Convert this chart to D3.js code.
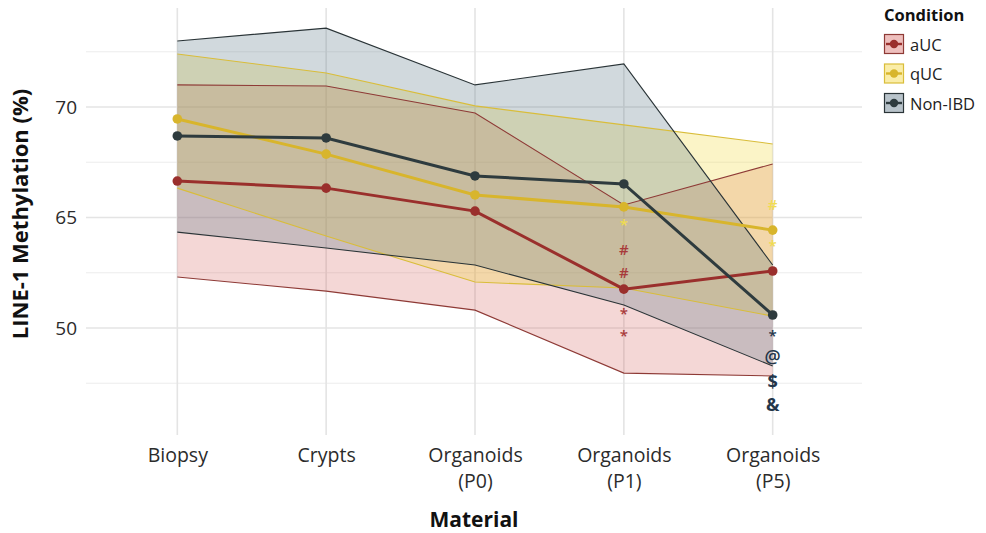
<!DOCTYPE html>
<html>
<head>
<meta charset="utf-8">
<script src="https://cdn.jsdelivr.net/npm/d3@7"></script>
<style>
  html, body { margin: 0; padding: 0; background: #fff; }
  svg { display: block; font-family: "Open Sans", "Noto Sans", sans-serif; }
</style>
</head>
<body>
<svg id="chart" width="986" height="533"></svg>
<script>
// Sample material, in order along the x axis
const materials = ["Biopsy", "Crypts", "Organoids (P0)", "Organoids (P1)", "Organoids (P5)"];
const materialLabels = [["Biopsy"], ["Crypts"], ["Organoids", "(P0)"], ["Organoids", "(P1)"], ["Organoids", "(P5)"]];

const conditions = ["aUC", "qUC", "Non-IBD"];

// Mean LINE-1 methylation per material
const meanAUC    = [56.65, 56.33, 55.29, 51.76, 52.58];
const meanQUC    = [59.46, 57.87, 56.02, 55.48, 54.43];
const meanNonIBD = [58.69, 58.60, 56.88, 56.52, 50.59];

// Upper / lower ribbon bounds per material
const upperAUC    = [61.00, 60.95, 59.73, 55.57, 57.42];
const lowerAUC    = [52.31, 51.67, 50.81, 47.96, 47.83];
const upperQUC    = [62.40, 61.54, 60.05, 59.19, 58.33];
const lowerQUC    = [56.33, 54.16, 52.08, 51.81, 50.54];
const upperNonIBD = [62.99, 63.57, 61.00, 61.95, 52.85];
const lowerNonIBD = [54.34, 53.62, 52.85, 51.04, 48.28];

// Y axis ticks and their printed labels
const yTicks = [50, 55, 60];
const yTickLabels = ["50", "65", "70"];
const yMinorTicks = [47.5, 52.5, 57.5, 62.5];

// Significance symbols placed beside the points
const annotations = [
  { material: "Organoids (P1)", condition: "qUC", symbol: "*", at: 54.80 },
  { material: "Organoids (P1)", condition: "aUC", symbol: "#", at: 53.57 },
  { material: "Organoids (P1)", condition: "aUC", symbol: "#", at: 52.53 },
  { material: "Organoids (P1)", condition: "aUC", symbol: "*", at: 50.77 },
  { material: "Organoids (P1)", condition: "aUC", symbol: "*", at: 49.77 },
  { material: "Organoids (P5)", condition: "qUC", symbol: "#", at: 55.57 },
  { material: "Organoids (P5)", condition: "qUC", symbol: "*", at: 53.85 },
  { material: "Organoids (P5)", condition: "Non-IBD", symbol: "*", at: 49.77 },
  { material: "Organoids (P5)", condition: "Non-IBD", symbol: "@", at: 48.64 },
  { material: "Organoids (P5)", condition: "Non-IBD", symbol: "$", at: 47.60 },
  { material: "Organoids (P5)", condition: "Non-IBD", symbol: "&", at: 46.52 }
];

const series = [
  { name: "aUC", mean: meanAUC, upper: upperAUC, lower: lowerAUC },
  { name: "qUC", mean: meanQUC, upper: upperQUC, lower: lowerQUC },
  { name: "Non-IBD", mean: meanNonIBD, upper: upperNonIBD, lower: lowerNonIBD }
];

const style = {
  "aUC":     { line: "#9a2f2c", edge: "#8e3a36", fill: "#d4605a", fillOpacity: 0.25, mark: "#a83a3a" },
  "qUC":     { line: "#d8b52c", edge: "#d9bd3a", fill: "#f2d530", fillOpacity: 0.27, mark: "#f0dc50" },
  "Non-IBD": { line: "#2e3b3e", edge: "#2a3437", fill: "#5a7585", fillOpacity: 0.28, mark: "#24364a" }
};

const svg = d3.select("#chart");
const panel = { left: 86, right: 862, top: 8, bottom: 435 };

const x = d3.scalePoint().domain(materials).range([panel.left + 2, panel.right]).padding(0.6);
const y = d3.scaleLinear().domain([45.16, 64.48]).range([panel.bottom, panel.top]);

// Grid
const grid = svg.append("g");
grid.selectAll("line.minor").data(yMinorTicks).join("line")
  .attr("x1", panel.left).attr("x2", panel.right)
  .attr("y1", d => y(d)).attr("y2", d => y(d))
  .attr("stroke", "#ececec").attr("stroke-width", 1.1);
grid.selectAll("line.major").data(yTicks).join("line")
  .attr("x1", panel.left).attr("x2", panel.right)
  .attr("y1", d => y(d)).attr("y2", d => y(d))
  .attr("stroke", "#e4e4e4").attr("stroke-width", 1.6);
grid.selectAll("line.v").data(materials).join("line")
  .attr("x1", d => x(d)).attr("x2", d => x(d))
  .attr("y1", panel.top).attr("y2", panel.bottom)
  .attr("stroke", "#e4e4e4").attr("stroke-width", 1.6);

// Ribbons
const area = d3.area()
  .x((d, i) => x(materials[i]))
  .y0(d => y(d[0])).y1(d => y(d[1]));
const edge = d3.line().x((d, i) => x(materials[i])).y(d => y(d));

const ribbons = svg.append("g");
series.forEach(s => {
  const st = style[s.name];
  const pts = s.lower.map((lo, i) => [lo, s.upper[i]]);
  ribbons.append("path").attr("d", area(pts))
    .attr("fill", st.fill).attr("fill-opacity", st.fillOpacity).attr("stroke", "none");
});
series.forEach(s => {
  const st = style[s.name];
  [s.upper, s.lower].forEach(b => {
    ribbons.append("path").attr("d", edge(b))
      .attr("fill", "none").attr("stroke", st.edge).attr("stroke-width", 1.1);
  });
});

// Mean lines and points
const means = svg.append("g");
series.forEach(s => {
  const st = style[s.name];
  means.append("path").attr("d", edge(s.mean))
    .attr("fill", "none").attr("stroke", st.line).attr("stroke-width", 3);
  means.selectAll(null).data(s.mean).join("circle")
    .attr("cx", (d, i) => x(materials[i])).attr("cy", d => y(d))
    .attr("r", 4.8).attr("fill", st.line);
});

// Significance symbols
const glyphShift = { "*": 0.52, "#": 0.36, "@": 0.27, "$": 0.37, "&": 0.36 };
const glyphSize = d => (d.symbol === "*" || d.symbol === "#") ? 15 : 18;
svg.append("g").selectAll("text").data(annotations).join("text")
  .attr("x", d => x(d.material))
  .attr("y", d => y(d.at) + glyphShift[d.symbol] * glyphSize(d))
  .attr("text-anchor", "middle")
  .attr("font-size", glyphSize)
  .attr("font-weight", d => d.symbol === "@" ? 600 : (glyphSize(d) === 15 ? 600 : 700))
  .attr("fill", d => style[d.condition].mark)
  .text(d => d.symbol);

// Y axis labels
const yAxis = d3.axisLeft(y).tickValues(yTicks)
  .tickFormat((d, i) => yTickLabels[i]).tickSize(0).tickPadding(9);
const yg = svg.append("g").attr("transform", `translate(${panel.left},0)`).call(yAxis);
yg.select(".domain").remove();
yg.selectAll("text").attr("font-size", 19).attr("fill", "#2b2b2b")
  .attr("font-family", "'Open Sans', sans-serif");

// X axis labels, one text per line
const xAxis = d3.axisBottom(x).tickSize(0).tickPadding(0);
const xg = svg.append("g").attr("transform", `translate(0,${panel.bottom})`).call(xAxis);
xg.select(".domain").remove();
xg.selectAll(".tick text").remove();
xg.selectAll(".tick").each(function(d) {
  const lines = materialLabels[materials.indexOf(d)];
  lines.forEach((ln, k) => d3.select(this).append("text")
    .attr("x", 0).attr("y", 26.5 + k * 26.5)
    .attr("text-anchor", "middle").attr("fill", "#2b2b2b")
    .attr("font-size", 19.5).attr("font-family", "'Open Sans', sans-serif")
    .text(ln));
});

// Axis titles
svg.append("text").attr("x", 474).attr("y", 527).attr("text-anchor", "middle")
  .attr("font-size", 21).attr("font-weight", 700).attr("fill", "#111").text("Material");
svg.append("text").attr("transform", "translate(28,214) rotate(-90)").attr("text-anchor", "middle")
  .attr("font-size", 22).attr("font-weight", 700).attr("fill", "#111").text("LINE-1 Methylation (%)");

// Legend
const legend = svg.append("g").attr("transform", "translate(884,0)");
legend.append("text").attr("x", 0).attr("y", 21).attr("font-size", 16.5).attr("font-weight", 700)
  .attr("fill", "#111").text("Condition");
conditions.forEach((c, i) => {
  const st = style[c];
  const g = legend.append("g").attr("transform", `translate(0,${34 + i * 29.5})`);
  g.append("rect").attr("x", 0.5).attr("y", 0.5).attr("width", 19).attr("height", 19)
    .attr("fill", "#fff");
  g.append("rect").attr("x", 0.5).attr("y", 0.5).attr("width", 19).attr("height", 19)
    .attr("fill", st.fill).attr("fill-opacity", st.fillOpacity + 0.15)
    .attr("stroke", st.edge).attr("stroke-width", 1.2);
  g.append("line").attr("x1", 2).attr("x2", 18).attr("y1", 10).attr("y2", 10)
    .attr("stroke", st.line).attr("stroke-width", 2.4);
  g.append("circle").attr("cx", 10).attr("cy", 10).attr("r", 4.2).attr("fill", st.line);
  g.append("text").attr("x", 26).attr("y", 16.5).attr("font-size", 16.5).attr("fill", "#222").text(c);
});
</script>
</body>
</html>
